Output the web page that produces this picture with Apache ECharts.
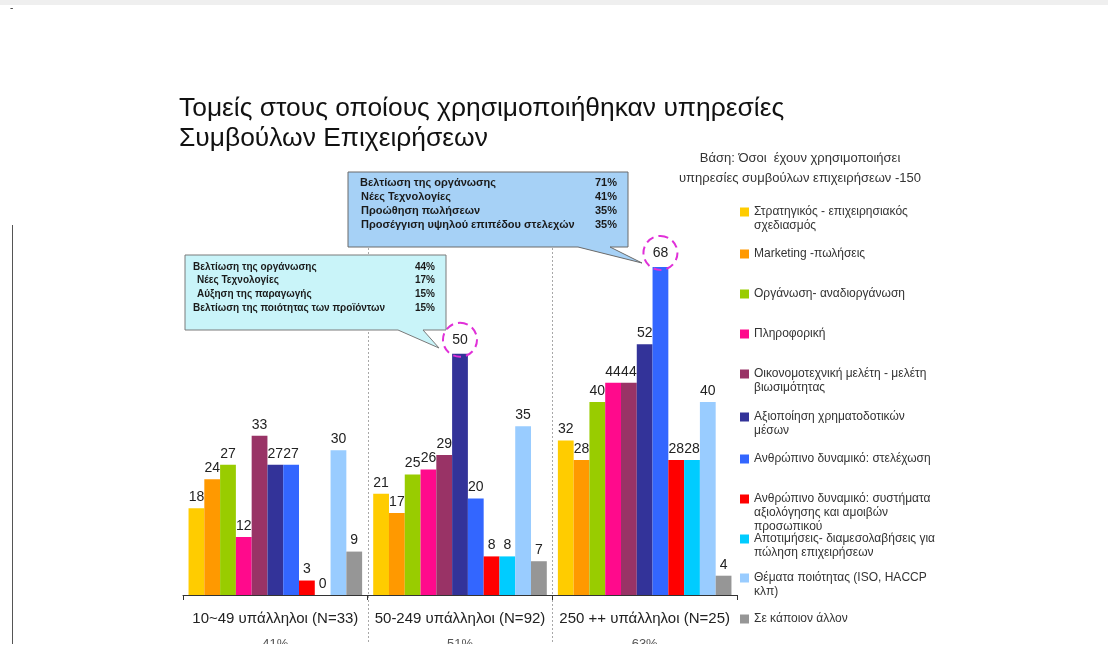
<!DOCTYPE html>
<html>
<head>
<meta charset="utf-8">
<script src="https://cdn.jsdelivr.net/npm/echarts@6/dist/echarts.min.js"></script>
<style>
  html, body { margin: 0; padding: 0; background: #ffffff; }
  #chart { width: 1108px; height: 670px; }
</style>
</head>
<body>
<div id="chart"></div>
<script>
// Company-size groups and their share line
const categories = ['10~49 υπάλληλοι (N=33)', '50-249 υπάλληλοι (N=92)', '250 ++ υπάλληλοι (N=25)'];
const shares = ['41%', '51%', '63%'];

// Consulting areas (legend text, line breaks as shown)
const seriesNames = [
  'Στρατηγικός - επιχειρησιακός\nσχεδιασμός',
  'Marketing -πωλήσεις',
  'Οργάνωση- αναδιοργάνωση',
  'Πληροφορική',
  'Οικονομοτεχνική μελέτη - μελέτη\nβιωσιμότητας',
  'Αξιοποίηση χρηματοδοτικών\nμέσων',
  'Ανθρώπινο δυναμικό: στελέχωση',
  'Ανθρώπινο δυναμικό: συστήματα\nαξιολόγησης και αμοιβών\nπροσωπικού',
  'Αποτιμήσεις- διαμεσολαβήσεις για\nπώληση επιχειρήσεων',
  'Θέματα ποιότητας (ISO, HACCP\nκλπ)',
  'Σε κάποιον άλλον'
];
const colors = ['#FFCC00', '#FF9900', '#99CC00', '#FF0A8C', '#993366', '#333399',
                '#3366FF', '#FF0000', '#00CCFF', '#99CCFF', '#969696'];

// Percentages per group
const strategic    = [18, 21, 32];
const marketing    = [24, 17, 28];
const organisation = [27, 25, 40];
const informatics  = [12, 26, 44];
const feasibility  = [33, 29, 44];
const funding      = [27, 50, 52];
const staffing     = [27, 20, 68];
const appraisal    = [3, 8, 28];
const valuations   = [0, 8, 28];
const quality      = [30, 35, 40];
const other        = [9, 7, 4];
const seriesValues = [strategic, marketing, organisation, informatics, feasibility, funding,
                      staffing, appraisal, valuations, quality, other];

// Values ringed with a dashed circle: [series index, category index]
const ringed = [[5, 1], [6, 2]];

// Callout contents
const callout1Items = ['Βελτίωση της οργάνωσης', 'Νέες Τεχνολογίες', 'Αύξηση της παραγωγής', 'Βελτίωση της ποιότητας των προϊόντων'];
const callout1Pct   = ['44%', '17%', '15%', '15%'];
const callout2Items = ['Βελτίωση της οργάνωσης', 'Νέες Τεχνολογίες', 'Προώθηση πωλήσεων', 'Προσέγγιση υψηλού επιπέδου στελεχών'];
const callout2Pct   = ['71%', '41%', '35%', '35%'];

const FONT = '"Liberation Sans", Arial, sans-serif';
const legendIconCenters = [212, 254, 294, 334, 374, 417, 459, 499, 539, 578, 619];
const LEGEND_LH = 14;

const chart = echarts.init(document.getElementById('chart'), null, { renderer: 'canvas' });

const ringLabel = {
  width: 34, height: 34, lineHeight: 34, align: 'center',
  borderColor: '#E030D8', borderWidth: 2, borderType: [8, 5], borderRadius: 17,
  distance: -3
};

const series = seriesNames.map((name, s) => ({
  name: name,
  type: 'bar',
  barGap: 0,
  barCategoryGap: '6%',
  itemStyle: { color: colors[s] },
  label: {
    show: true, position: 'top', distance: 4,
    fontFamily: FONT, fontSize: 14, color: '#222'
  },
  data: seriesValues[s].map((v, c) =>
    ringed.some(r => r[0] === s && r[1] === c) ? { value: v, label: ringLabel } : v)
}));

const legends = seriesNames.map((name, i) => {
  const n = name.split('\n').length;
  return {
    data: [name],
    left: 740,
    top: legendIconCenters[i] - (2 * n - 1) * LEGEND_LH / 2,
    orient: 'vertical',
    padding: 0,
    itemWidth: 9, itemHeight: 9, itemGap: 0,
    icon: 'rect',
    selectedMode: false,
    textStyle: { fontFamily: FONT, fontSize: 12, color: '#333', lineHeight: LEGEND_LH },
    formatter: nm => '\n'.repeat(n - 1) + nm
  };
});

chart.setOption({
  animation: false,
  backgroundColor: '#ffffff',
  title: {
    text: 'Τομείς στους οποίους χρησιμοποιήθηκαν υπηρεσίες\nΣυμβούλων Επιχειρήσεων',
    left: 179, top: 94, padding: 0,
    textStyle: { fontFamily: FONT, fontSize: 26.4, fontWeight: 'normal', color: '#111', lineHeight: 30 }
  },
  legend: legends,
  grid: { left: 183, right: 371, top: 238, bottom: 75, containLabel: false },
  xAxis: {
    type: 'category',
    data: categories,
    axisLine: { lineStyle: { color: '#333', width: 1 } },
    axisTick: { show: true, length: 5, interval: 0, lineStyle: { color: '#333' } },
    axisLabel: {
      interval: 0, margin: 12,
      fontFamily: FONT, fontSize: 15, color: '#222', lineHeight: 24,
      formatter: (v, i) => v + '\n{p|' + shares[i] + '}',
      rich: { p: { fontFamily: FONT, fontSize: 13, color: '#555', lineHeight: 26 } }
    },
    splitLine: { show: false }
  },
  yAxis: {
    type: 'value', min: 0, max: 74,
    show: false
  },
  series: series
});

// Annotations: dotted group separators, callouts, note text and frame pieces
const centers = categories.map(c => chart.convertToPixel({ xAxisIndex: 0 }, c));
const separators = [];
for (let i = 0; i < centers.length - 1; i++) {
  const x = Math.round((centers[i] + centers[i + 1]) / 2) + 0.5;
  separators.push({
    type: 'line', z: 0,
    shape: { x1: x, y1: 240, x2: x, y2: 645 },
    style: { stroke: '#A8A8A8', lineWidth: 1, lineDash: [2, 2] }
  });
}

function calloutTexts(items, pcts, lefts, right, y0, lh, size) {
  const out = [];
  items.forEach((t, i) => {
    out.push({ type: 'text', z: 20, x: lefts[i], y: y0 + i * lh,
      style: { text: t, fontFamily: FONT, fontSize: size, fontWeight: 'bold', fill: '#1a1a1a', verticalAlign: 'middle' } });
    out.push({ type: 'text', z: 20, x: right, y: y0 + i * lh,
      style: { text: pcts[i], fontFamily: FONT, fontSize: size, fontWeight: 'bold', fill: '#1a1a1a', align: 'right', verticalAlign: 'middle' } });
  });
  return out;
}

const graphics = [
  // top strip and left frame line
  { type: 'rect', z: 0, shape: { x: 0, y: 0, width: 1108, height: 5 }, style: { fill: '#EFEFEF' } },
  { type: 'text', z: 1, x: 10, y: 3, style: { text: '-', fontFamily: FONT, fontSize: 10, fill: '#333' } },
  { type: 'line', z: 1, shape: { x1: 12.5, y1: 225, x2: 12.5, y2: 645 }, style: { stroke: '#555', lineWidth: 1 } },
  ...separators,
  // lower callout
  { type: 'polygon', z: 15,
    shape: { points: [[185, 255], [446, 255], [446, 330], [423, 330], [439, 348], [398, 330], [185, 330]] },
    style: { fill: '#C9F4F9', stroke: '#7A7A7A', lineWidth: 1 } },
  ...calloutTexts(callout1Items, callout1Pct, [193, 197, 197, 193], 435, 267, 13.7, 10),
  // upper callout
  { type: 'polygon', z: 15,
    shape: { points: [[348, 172], [628, 172], [628, 247], [610, 247], [642, 263], [578, 247], [348, 247]] },
    style: { fill: '#A6D1F6', stroke: '#6A6A6A', lineWidth: 1 } },
  ...calloutTexts(callout2Items, callout2Pct, [360, 361, 361, 361], 617, 183, 14, 11),
  // base note
  { type: 'text', z: 5, x: 800, y: 168,
    style: { text: 'Βάση: Όσοι  έχουν χρησιμοποιήσει\nυπηρεσίες συμβούλων επιχειρήσεων -150',
      fontFamily: FONT, fontSize: 13, fill: '#333', align: 'center', verticalAlign: 'middle', lineHeight: 20 } },
  // page crop at the bottom edge
  { type: 'rect', z: 100, shape: { x: 0, y: 644, width: 1108, height: 26 }, style: { fill: '#ffffff' } }
];

chart.setOption({ graphic: graphics });
</script>
</body>
</html>
